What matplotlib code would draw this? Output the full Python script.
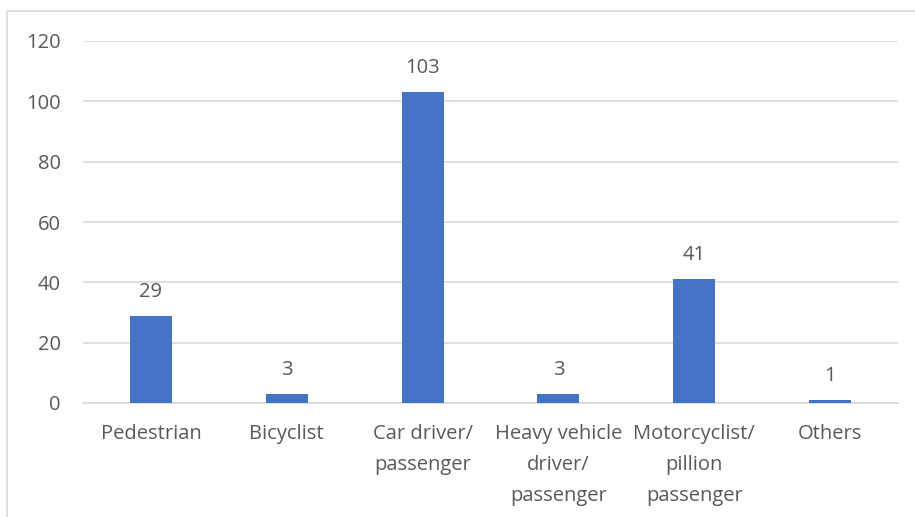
import matplotlib.pyplot as plt
from matplotlib.patches import Rectangle

categories = ['Pedestrian', 'Bicyclist', 'Car driver/\npassenger',
              'Heavy vehicle\ndriver/\npassenger', 'Motorcyclist/\npillion\npassenger', 'Others']
values = [29, 3, 103, 3, 41, 1]
y_ticks = [0, 20, 40, 60, 80, 100, 120]

text_color = '#595959'
grid_color = '#d9d9d9'
bar_color = '#4472C4'

plt.rcParams['font.family'] = ['Open Sans', 'DejaVu Sans']

fig = plt.figure(figsize=(9.15, 5.17), dpi=100)
ax = fig.add_axes([83 / 915, 1 - 403 / 517, (898 - 83) / 915, (403 - 41) / 517])

# a diagram keretje (felül és balra látszik)
fig.patches.append(Rectangle((7 / 915, -0.1), 1.2, 1.1 - 11 / 517,
                             transform=fig.transFigure, fill=False,
                             edgecolor=grid_color, linewidth=1.2))

x = range(len(categories))
ax.bar(x, values, width=0.31, color=bar_color, zorder=3)

for xi, v in zip(x, values):
    ax.annotate(str(v), (xi, v), xytext=(0, 10), textcoords='offset points',
                ha='center', va='bottom', fontsize=14.5, color=text_color)

ax.set_ylim(0, 120)
ax.set_xlim(-0.5, len(categories) - 0.5)
ax.set_yticks(y_ticks)
ax.set_xticks(list(x))
ax.set_xticklabels(categories, linespacing=1.75)
ax.tick_params(axis='both', length=0, labelsize=14.5, labelcolor=text_color)
ax.tick_params(axis='y', pad=16)
ax.tick_params(axis='x', pad=15)
ax.grid(axis='y', color=grid_color, linewidth=1.2, zorder=0)
for side in ['top', 'right', 'left']:
    ax.spines[side].set_visible(False)
ax.spines['bottom'].set_color(grid_color)
ax.spines['bottom'].set_linewidth(1.2)

fig.savefig('out.png', dpi=100)
